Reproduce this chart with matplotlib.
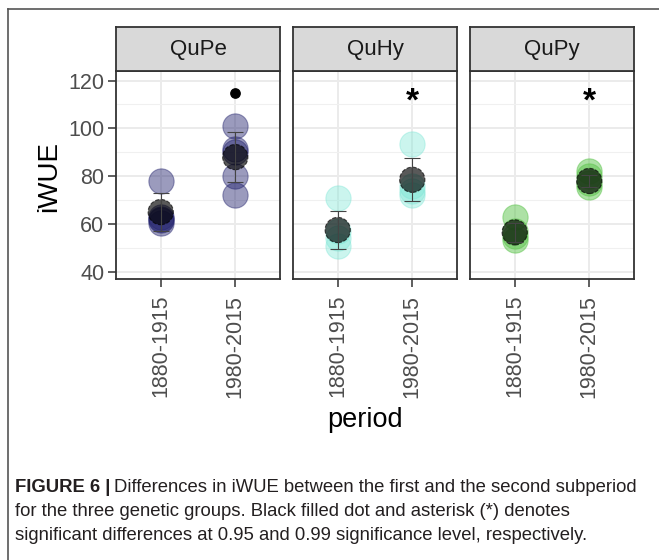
import matplotlib
matplotlib.use("Agg")
import matplotlib.pyplot as plt
from matplotlib.lines import Line2D
from matplotlib.ticker import MultipleLocator

plt.rcParams['font.family'] = ['Liberation Sans', 'DejaVu Sans']

# data
groups = ['QuPe', 'QuHy', 'QuPy']
periods = ['1880-1915', '1980-2015']
points = {
    'QuPe': [[78, 63, 61.5, 60.5, 62], [101, 91.5, 90, 80, 72]],
    'QuHy': [[71, 57, 54, 51], [93.5, 76, 74, 72]],
    'QuPy': [[63, 57, 55, 53.5], [82, 80, 77, 75.5]],
}
means = {'QuPe': [65, 88], 'QuHy': [57.5, 78.5], 'QuPy': [56.5, 78]}
errs = {'QuPe': [8, 10.5], 'QuHy': [8, 9], 'QuPy': [4, 2.5]}
# significance marks: (group, period index, y, kind)
marks = [('QuPe', 1, 115, 'dot'), ('QuHy', 1, 111, '*'), ('QuPy', 1, 111, '*')]
colors = {'QuPe': '#23236e', 'QuHy': '#7ee6d6', 'QuPy': '#5cc44c'}
alphas = {'QuPe': 0.45, 'QuHy': 0.4, 'QuPy': 0.5}

caption_lead = 'FIGURE 6 |'
caption_lines = [
    'Differences in iWUE between the first and the second subperiod',
    'for the three genetic groups. Black filled dot and asterisk (*) denotes',
    'significant differences at 0.95 and 0.99 significance level, respectively.',
]

W, H = 659, 560
fig = plt.figure(figsize=(W / 100, H / 100), dpi=100)


def rect(x0, y0, x1, y1):
    # pixel box (top-left origin) -> figure fraction
    return [x0 / W, 1 - y1 / H, (x1 - x0) / W, (y1 - y0) / H]


panel_x = [116, 293, 470]
pw = 164
top, bottom, strip_top = 71, 279, 27

for i, g in enumerate(groups):
    x0 = panel_x[i]
    ax = fig.add_axes(rect(x0, top, x0 + pw, bottom))
    ax.set_xlim(0.4, 2.6)
    ax.set_ylim(37, 124)
    ax.yaxis.set_major_locator(MultipleLocator(20))
    ax.yaxis.set_minor_locator(MultipleLocator(10))
    ax.set_xticks([1, 2])
    ax.set_xticklabels(periods, rotation=90)
    ax.grid(True, which='major', color='#ebebeb', lw=1.4, zorder=0)
    ax.grid(True, which='minor', axis='y', color='#f0f0f0', lw=0.8, zorder=0)
    ax.set_axisbelow(True)
    ax.tick_params(axis='both', which='major', length=5.5, width=1.1, color='#333333',
                   labelsize=15.5, labelcolor='#4d4d4d')
    ax.tick_params(axis='x', pad=6)
    ax.tick_params(axis='y', pad=3)
    ax.tick_params(which='minor', length=0)
    for s in ax.spines.values():
        s.set_color('#333333')
        s.set_linewidth(1.3)
    if i > 0:
        ax.tick_params(axis='y', length=0, labelleft=False)

    for j in range(2):
        ys = points[g][j]
        ax.scatter([j + 1] * len(ys), ys, s=330, color=colors[g], alpha=alphas[g],
                   edgecolors=colors[g], linewidths=0.8, zorder=3)
        ax.scatter([j + 1], [means[g][j]], s=330, color='black', alpha=0.65,
                   edgecolors='black', linewidths=0.8, linestyle='--', zorder=4)
        ax.errorbar([j + 1], [means[g][j]], yerr=[errs[g][j]], fmt='none',
                    ecolor='#444444', elinewidth=0.8, capsize=5.5, capthick=0.8, zorder=5)

    for mg, mj, my, kind in marks:
        if mg != g:
            continue
        if kind == 'dot':
            ax.scatter([mj + 1], [my], s=45, color='black', zorder=6)
        else:
            ax.text(mj + 1, my, '*', fontsize=24, fontweight='bold', ha='center',
                    va='center', color='black', zorder=6)

    sax = fig.add_axes(rect(x0, strip_top, x0 + pw, top))
    sax.set_facecolor('#d9d9d9')
    sax.set_xticks([])
    sax.set_yticks([])
    for s in sax.spines.values():
        s.set_color('#333333')
        s.set_linewidth(1.3)
    sax.text(0.5, 0.5, g, fontsize=16, color='#1a1a1a', ha='center', va='center',
             transform=sax.transAxes)

fig.text(49 / W, 1 - 176 / H, 'iWUE', rotation=90, fontsize=20, ha='center', va='center')
fig.text(365 / W, 1 - 420 / H, 'period', fontsize=19.5, ha='center', va='center')

# outer frame (left and top edges of the figure box)
fig.add_artist(Line2D([8 / W, 8 / W], [0, 1 - 9 / H], transform=fig.transFigure,
                      color='#555555', lw=1.2))
fig.add_artist(Line2D([8 / W, 1], [1 - 9 / H, 1 - 9 / H], transform=fig.transFigure,
                      color='#555555', lw=1.2))

# caption: shrink the font until the first line fits the reference width
renderer = fig.canvas.get_renderer()
cap_size = 14.5
cap_color = '#231f20'
line_y = [487, 512, 536]
for _ in range(4):
    for t in list(fig.texts):
        if getattr(t, '_caption', False):
            t.remove()
    lead = fig.text(15 / W, 1 - line_y[0] / H, caption_lead, fontsize=cap_size,
                    fontweight='bold', color=cap_color, va='center')
    lead._caption = True
    bb = lead.get_window_extent(renderer)
    first = fig.text((bb.x1 + 4) / W, 1 - line_y[0] / H, caption_lines[0],
                     fontsize=cap_size, color=cap_color, va='center')
    first._caption = True
    end = first.get_window_extent(renderer).x1
    cap_size *= (638 - 15) / (end - 15)
cap_size = first.get_fontsize()
for k in (1, 2):
    fig.text(15 / W, 1 - line_y[k] / H, caption_lines[k], fontsize=cap_size,
             color=cap_color, va='center')

fig.savefig('out.png', dpi=100)
